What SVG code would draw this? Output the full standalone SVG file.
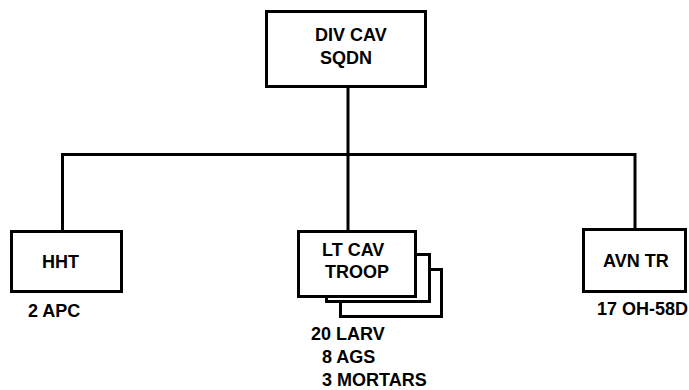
<svg xmlns="http://www.w3.org/2000/svg" width="689" height="390" viewBox="0 0 689 390">
<style>
.box{fill:#fff;stroke:#000;stroke-width:3}
.ln{fill:none;stroke:#000;stroke-width:3}
text{font-family:"Liberation Sans",Arial,sans-serif;font-weight:bold;font-size:18px;fill:#000}
</style>
<rect width="689" height="390" fill="#fff"/>
<g id="connectors">
<path class="ln" d="M348,88 V154.5 M62.5,154.5 H635 M62.5,153 V230 M348,153 V230 M635,153 V229"/>
</g>
<g id="divcav">
<rect class="box" x="266.5" y="11.5" width="159" height="75"/>
<text x="315" y="41">DIV CAV</text>
<text x="320" y="64">SQDN</text>
</g>
<g id="hht">
<rect class="box" x="11.5" y="231.5" width="110" height="60"/>
<text x="42" y="268">HHT</text>
<text x="28" y="317">2 APC</text>
</g>
<g id="ltcav">
<rect class="box" x="340.5" y="269.5" width="101" height="47"/>
<rect class="box" x="326.5" y="254.5" width="103" height="47"/>
<rect class="box" x="298.5" y="231.5" width="117" height="65"/>
<text x="322" y="256">LT CAV</text>
<text x="325" y="278">TROOP</text>
<text x="311" y="340">20 LARV</text>
<text x="322" y="363">8 AGS</text>
<text x="322" y="386">3 MORTARS</text>
</g>
<g id="avntr">
<rect class="box" x="583.5" y="229.5" width="102" height="62"/>
<text x="603" y="267">AVN TR</text>
<text x="597" y="315">17 OH-58D</text>
</g>
</svg>
